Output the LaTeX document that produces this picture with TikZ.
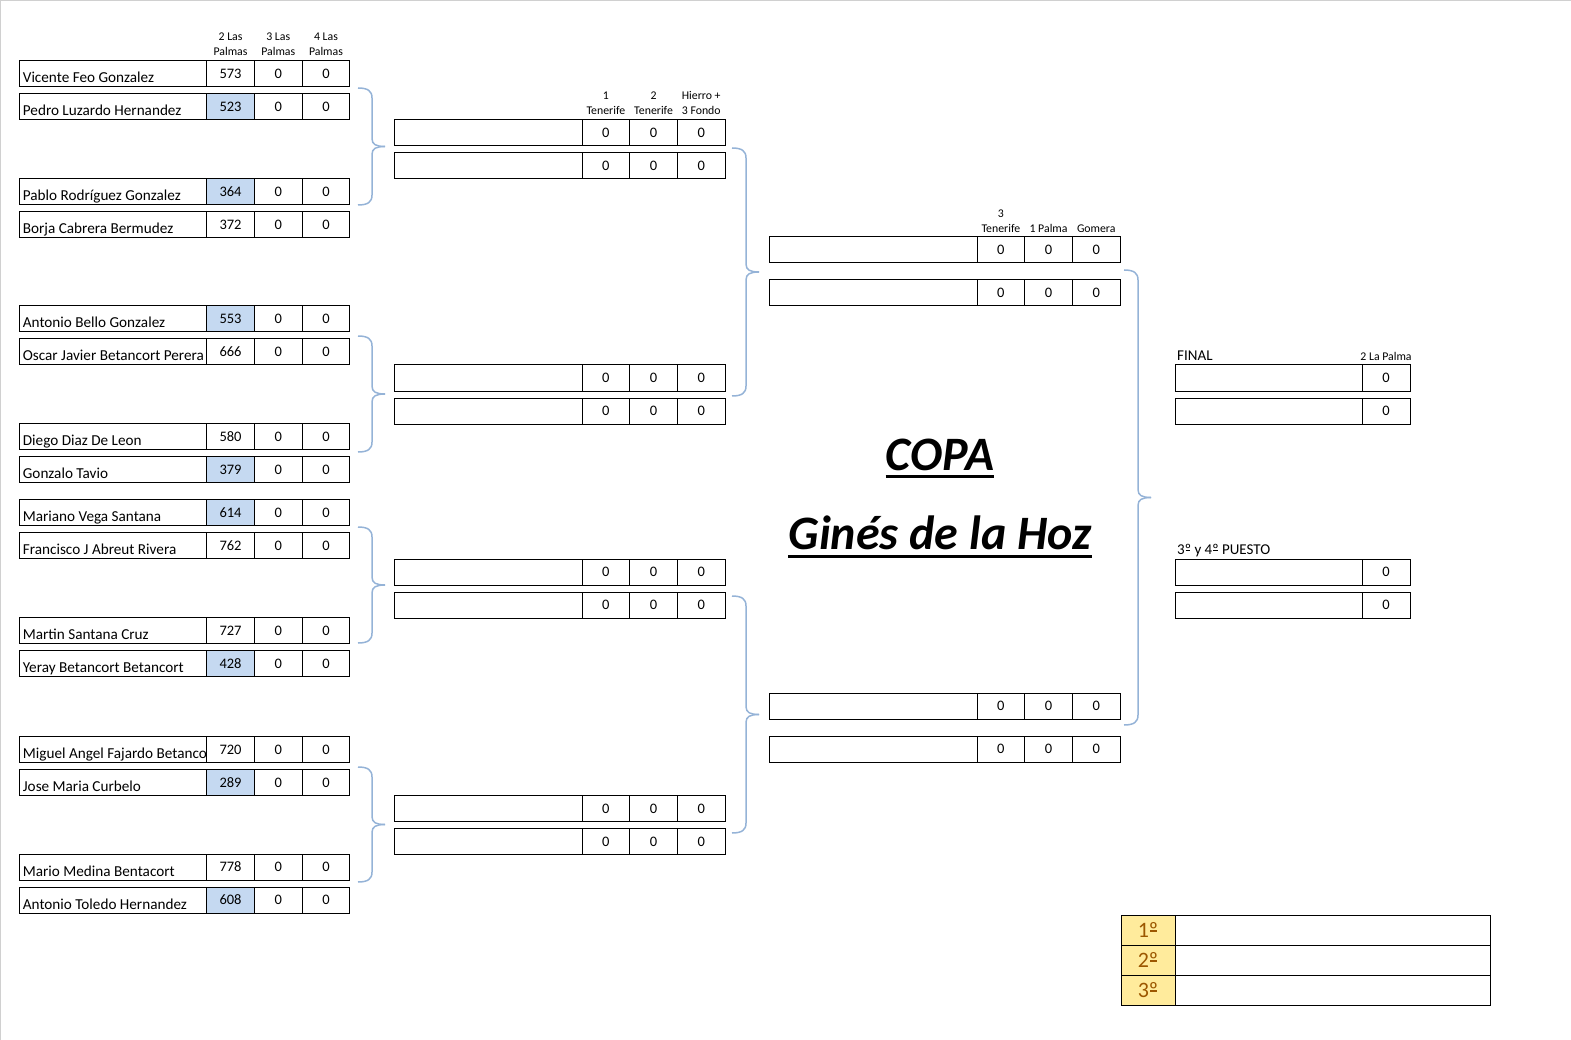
\documentclass[tikz,border=0pt]{standalone}
\usepackage{fontspec}
\setmainfont{Carlito}
\usetikzlibrary{positioning}
\definecolor{celeste}{HTML}{C5D9F1}
\definecolor{llavecol}{HTML}{95B3D7}
\definecolor{neutrofondo}{HTML}{FFEB9C}
\definecolor{neutrotexto}{HTML}{9C5700}
\definecolor{borde}{HTML}{D0D0D0}

% ordinal subrayado
\newcommand{\ordm}{\setbox0\hbox{º}\rlap{º}\hbox to \wd0{\hss\raisebox{0.27em}{\rule{0.75\wd0}{0.055em}}\hss}}
% llave: x, y arriba, y abajo
\newcommand{\llave}[3]{%
  \pgfmathsetmacro\ymed{(#2+#3)/2}
  \draw[llave] (#1,#2) .. controls (#1+10,#2) and (#1+14,#2+3) .. (#1+14,#2+10) -- (#1+14,\ymed-8) .. controls (#1+14,\ymed-2) and (#1+18,\ymed) .. (#1+27,\ymed);
  \draw[llave] (#1,#3) .. controls (#1+10,#3) and (#1+14,#3-3) .. (#1+14,#3-10) -- (#1+14,\ymed+8) .. controls (#1+14,\ymed+2) and (#1+18,\ymed) .. (#1+27,\ymed);
}

\begin{document}
\begin{tikzpicture}[x=1pt, y=-1pt,
		celda/.style={draw, line width=1pt, inner sep=0pt, outer sep=0pt, minimum height=26pt},
		nombre/.style={celda, minimum width=#1, anchor=north west},
		punto/.style={celda, minimum width=47.7pt, font=\fontsize{14.5}{17}\selectfont},
		texto/.style={inner sep=0pt, anchor=base west, font=\fontsize{15.2}{18}\selectfont},
		cabecera/.style={inner sep=0pt, align=center, font=\fontsize{11.8}{15}\selectfont},
		etiqueta/.style={inner sep=0pt, anchor=base west, font=\fontsize{15}{18}\selectfont},
		titulo/.style={inner sep=0pt, font=\fontsize{48}{50}\selectfont\bfseries\itshape},
		llave/.style={draw=llavecol, line width=1.5pt}]
		\useasboundingbox (0,0) rectangle (1571,1040);
		% borde de la hoja
		\draw[borde, line width=1pt] (0.5,1040) -- (0.5,0.5) -- (1571,0.5);
		% primera ronda
		\foreach \nom/\pts/\yy/\fondo [count=\i] in {Vicente Feo Gonzalez/573/60.5/white, Pedro Luzardo Hernandez/523/93.5/celeste,
			Pablo Rodríguez Gonzalez/364/178.5/celeste, Borja Cabrera Bermudez/372/211.5/white,
			Antonio Bello Gonzalez/553/305.5/celeste, Oscar Javier Betancort Perera/666/338.5/white,
			Diego Diaz De Leon/580/423.5/white, Gonzalo Tavio/379/456.5/celeste,
			Mariano Vega Santana/614/499.5/celeste, Francisco J Abreut Rivera/762/532.5/white,
			Martin Santana Cruz/727/617.5/white, Yeray Betancort Betancort/428/650.5/celeste,
			Miguel Angel Fajardo Betanco/720/736.5/white, Jose Maria Curbelo/289/769.5/celeste,
			Mario Medina Bentacort/778/854/white, Antonio Toledo Hernandez/608/887/celeste}{
			\node[nombre=187.4pt] (j\i) at (19.3,\yy) {};
			\node[texto] at ([xshift=3.4pt,yshift=3.7pt]j\i.south west) {\nom};
			\node[punto, fill=\fondo, right=0pt of j\i] (j\i-a) {\pts};
			\node[punto, fill=white, right=0pt of j\i-a] (j\i-b) {0};
			\node[punto, fill=white, right=0pt of j\i-b] (j\i-c) {0};
		}
		\node[cabecera, above=4.5pt of j1-a] {2 Las\\Palmas};
		\node[cabecera, above=4.5pt of j1-b] {3 Las\\Palmas};
		\node[cabecera, above=4.5pt of j1-c] {4 Las\\Palmas};
		% segunda ronda
		\foreach \yy [count=\i] in {119.5,152.5,365,398,559,592,795.5,828.5}{
			\node[nombre=188pt] (s\i) at (394,\yy) {};
			\node[punto, right=0pt of s\i] (s\i-a) {0};
			\node[punto, right=0pt of s\i-a] (s\i-b) {0};
			\node[punto, right=0pt of s\i-b] (s\i-c) {0};
		}
		\node[cabecera, above=4.5pt of s1-a] {1\\Tenerife};
		\node[cabecera, above=4.5pt of s1-b] {2\\Tenerife};
		\node[cabecera, above=4.5pt of s1-c] {Hierro +\\3 Fondo};
		% semifinales
		\foreach \yy [count=\i] in {237,280,693,736}{
			\node[nombre=208pt] (q\i) at (769,\yy) {};
			\node[punto, right=0pt of q\i] (q\i-a) {0};
			\node[punto, right=0pt of q\i-a] (q\i-b) {0};
			\node[punto, right=0pt of q\i-b] (q\i-c) {0};
		}
		\node[cabecera, above=4.5pt of q1-a] {3\\Tenerife};
		\node[cabecera, above=4.5pt of q1-b] {1 Palma};
		\node[cabecera, above=4.5pt of q1-c] {Gomera};
		% final y 3er puesto
		\foreach \yy [count=\i] in {365,398}{
			\node[nombre=187pt] (f\i) at (1175,\yy) {};
			\node[punto, minimum width=48pt, right=0pt of f\i] (f\i-a) {0};
		}
		\foreach \yy [count=\i] in {559,592}{
			\node[nombre=187pt] (t\i) at (1175,\yy) {};
			\node[punto, minimum width=48pt, right=0pt of t\i] (t\i-a) {0};
		}
		\node[etiqueta] at ([xshift=2pt,yshift=4pt]f1.north west) {FINAL};
		\node[cabecera, above=4.5pt of f1-a] {2 La Palma};
		\node[etiqueta] at ([xshift=2pt,yshift=4.5pt]t1.north west) {3\ordm{} y 4\ordm{} PUESTO};
		% llaves
		\llave{358}{88}{205}
		\llave{358}{336}{452}
		\llave{358}{527}{643}
		\llave{358}{767}{882}
		\llave{732}{148}{396}
		\llave{732}{596}{833}
		\llave{1124}{270}{725}
		% titulo
		\node[titulo] (copa) at (940,455) {COPA};
		\node[titulo] (gines) at (940,533) {Ginés de la Hoz};
		\draw[line width=3pt] ([yshift=-5.5pt]copa.base west) -- ([yshift=-5.5pt]copa.base east);
		\draw[line width=3pt] ([yshift=-7pt]gines.base west) -- ([yshift=-7pt]gines.base east);
		% podio
		\foreach \pos/\yy [count=\i] in {1/915, 2/945, 3/975}{
			\node[celda, minimum width=54pt, minimum height=30pt, anchor=north west, fill=neutrofondo, text=neutrotexto, font=\fontsize{22}{24}\selectfont] (p\i) at (1121,\yy) {\pos\ordm};
			\node[celda, minimum width=315pt, minimum height=30pt, right=0pt of p\i] (p\i-n) {};
		}
\end{tikzpicture}
\end{document}
